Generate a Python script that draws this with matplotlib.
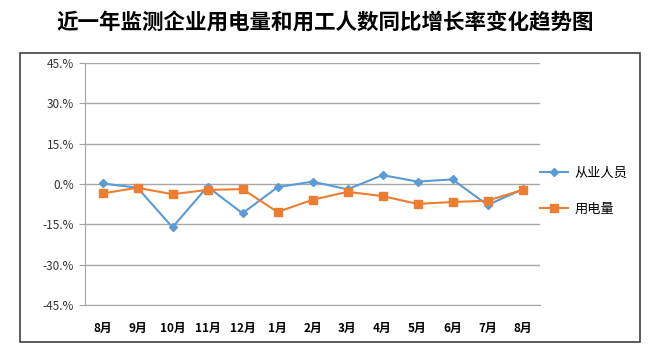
import matplotlib.pyplot as plt
from matplotlib.patches import Rectangle

plt.rcParams['font.family'] = ['Noto Sans CJK SC', 'DejaVu Sans']

months = ["8月", "9月", "10月", "11月", "12月", "1月", "2月", "3月", "4月", "5月", "6月", "7月", "8月"]
workers = [0.2, -1.4, -16.1, -1.0, -10.9, -1.2, 0.9, -2.0, 3.3, 0.9, 1.7, -7.8, -2.0]
power = [-3.5, -1.4, -3.8, -2.2, -1.9, -10.4, -5.9, -2.9, -4.5, -7.4, -6.7, -6.2, -2.2]
yticks = [45, 30, 15, 0, -15, -30, -45]
ytick_labels = ["45.%", "30.%", "15.%", "0.%", "-15.%", "-30.%", "-45.%"]

fig = plt.figure(figsize=(6.5, 3.56), dpi=100)
fig.patches.append(Rectangle((20 / 650, 1 - 342 / 356), 620 / 650, 289 / 356,
                             transform=fig.transFigure, fill=False,
                             edgecolor="#404040", linewidth=1.2))
fig.text(0.5, 1 - 22 / 356, "近一年监测企业用电量和用工人数同比增长率变化趋势图",
         ha="center", va="center", fontsize=15.5, fontweight="bold")

ax = fig.add_axes([85 / 650, 1 - 305 / 356, 455 / 650, 242 / 356])
x = list(range(len(months)))
ax.plot(x, workers, color="#5B9BD5", marker="D", markersize=4.5, linewidth=1.5, label="从业人员")
ax.plot(x, power, color="#ED7D31", marker="s", markersize=6, linewidth=1.5, label="用电量")

ax.set_xlim(-0.5, len(months) - 0.5)
ax.set_ylim(-45, 45)
ax.set_yticks(yticks)
ax.set_yticklabels(ytick_labels, fontsize=8.5, color="#333333")
ax.set_xticks(x)
ax.set_xticklabels(months, fontsize=8.5, fontweight="bold")
ax.tick_params(axis="x", length=0, pad=12)
ax.tick_params(axis="y", length=4, color="#a0a0a0", pad=4)
ax.grid(axis="y", color="#a6a6a6", linewidth=1)
ax.set_axisbelow(True)
for side in ["top", "right"]:
    ax.spines[side].set_visible(False)
ax.spines["left"].set_color("#a6a6a6")
ax.spines["bottom"].set_color("#a6a6a6")

ax.legend(loc="center left", bbox_to_anchor=(528 / 650, 1 - 191.5 / 356),
          bbox_transform=fig.transFigure, frameon=False,
          fontsize=9.5, handlelength=2.1, handletextpad=0.5, labelspacing=1.75)

fig.savefig("out.png", dpi=100)
